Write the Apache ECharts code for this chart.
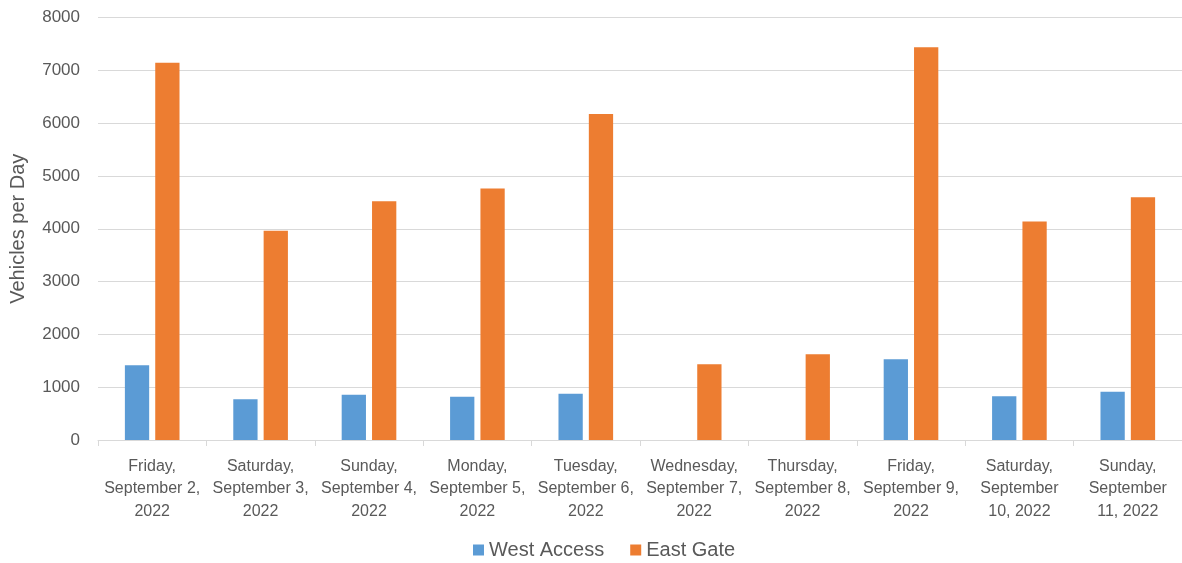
<!DOCTYPE html>
<html>
<head>
<meta charset="utf-8">
<script src="https://cdn.jsdelivr.net/npm/echarts@6/dist/echarts.min.js"></script>
<style>html,body{margin:0;padding:0;background:#fff}#c{width:1182px;height:563px}</style>
</head>
<body>
<div id="c"></div>
<script>
const categories = [
  "Friday,\nSeptember 2,\n2022",
  "Saturday,\nSeptember 3,\n2022",
  "Sunday,\nSeptember 4,\n2022",
  "Monday,\nSeptember 5,\n2022",
  "Tuesday,\nSeptember 6,\n2022",
  "Wednesday,\nSeptember 7,\n2022",
  "Thursday,\nSeptember 8,\n2022",
  "Friday,\nSeptember 9,\n2022",
  "Saturday,\nSeptember\n10, 2022",
  "Sunday,\nSeptember\n11, 2022"
];
const westAccess = [1415, 770, 858, 820, 877, null, null, 1528, 827, 915];
const eastGate = [7145, 3964, 4520, 4760, 6174, 1433, 1623, 7437, 4135, 4596];
const seriesNames = ["West Access", "East Gate"];
const yTicks = { min: 0, max: 8000, interval: 1000 };

const chart = echarts.init(document.getElementById('c'), null, { renderer: 'canvas' });
const textColor = '#595959';
const font = 'Liberation Sans';
chart.setOption({
  animation: false,
  backgroundColor: '#ffffff',
  textStyle: { fontFamily: font },
  grid: { left: 97.5, top: 17.5, width: 1094, height: 422.5, containLabel: false },
  legend: {
    bottom: -2, left: 468,
    itemWidth: 11, itemHeight: 11, itemGap: 26,
    icon: 'rect',
    textStyle: { color: textColor, fontSize: 20, fontFamily: font },
    data: seriesNames
  },
  xAxis: {
    type: 'category',
    data: categories,
    axisLine: { show: true, lineStyle: { color: '#d9d9d9', width: 1 } },
    axisTick: { show: true, alignWithLabel: false, length: 6, lineStyle: { color: '#d9d9d9' } },
    axisLabel: { color: textColor, fontSize: 16, lineHeight: 22.5, margin: 15, interval: 0, fontFamily: font }
  },
  yAxis: {
    type: 'value',
    min: yTicks.min, max: yTicks.max, interval: yTicks.interval,
    name: 'Vehicles per Day',
    nameLocation: 'middle',
    nameGap: 70,
    nameTextStyle: { color: textColor, fontSize: 20, fontFamily: font },
    axisLine: { show: false },
    axisTick: { show: false },
    axisLabel: { color: textColor, fontSize: 17, margin: 18, fontFamily: font, formatter: v => String(v) },
    splitLine: { lineStyle: { color: '#d9d9d9', width: 1 } }
  },
  series: [
    { name: seriesNames[0], type: 'bar', data: westAccess, barWidth: '22.4%', barGap: '25%',
      itemStyle: { color: '#5B9BD5' } },
    { name: seriesNames[1], type: 'bar', data: eastGate, barWidth: '22.4%', barGap: '25%',
      itemStyle: { color: '#ED7D31' } }
  ]
});
</script>
</body>
</html>
